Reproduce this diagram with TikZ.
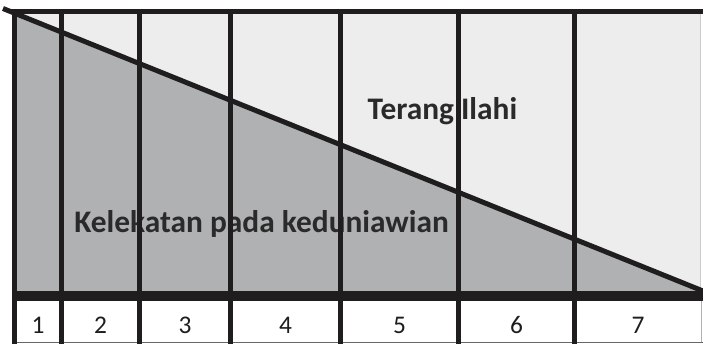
\documentclass[tikz,border=0pt]{standalone}
\usepackage{fontspec}
\setmainfont{Carlito}
\definecolor{darkfill}{HTML}{B0B1B3}
\definecolor{lightfill}{HTML}{EDEDED}
\definecolor{ink}{HTML}{1F1D1E}
\definecolor{txt}{HTML}{2A2A2A}
\begin{document}
\begin{tikzpicture}[x=1bp,y=-1bp,
  bar/.style={draw=ink,line width=5bp},
  label/.style={font=\fontsize{31.5}{32}\selectfont\bfseries,text=txt,inner sep=0pt,anchor=base},
  num/.style={font=\fontsize{25.5}{26}\selectfont,text=ink,inner sep=0pt,anchor=base}]
\useasboundingbox (0,0) rectangle (703,344);
% fills
\fill[white] (0,0) rectangle (703,344);
\fill[lightfill] (14,11) rectangle (701,292);
\fill[darkfill] (14,13) -- (703,291) -- (14,291) -- cycle;
\draw[gray!40,line width=1bp] (700.5,12) -- (700.5,291);
\draw[gray!60,line width=1bp] (701.5,300) -- (701.5,343);
\draw[gray!80!black,line width=1.2bp] (14,342.5) -- (703,342.5);
% texts
\node[label] (terang) at (442.5,119.5) {Terang Ilahi};
\node[label] (kelekatan) at (261.5,232) {Kelekatan pada keduniawian};
\node[num] (n1) at (38,333) {1};
\node[num] (n2) at (100.5,333) {2};
\node[num] (n3) at (185,333) {3};
\node[num] (n4) at (285.5,333) {4};
\node[num] (n5) at (399.5,333) {5};
\node[num] (n6) at (516.5,333) {6};
\node[num] (n7) at (638,333) {7};
% lines
\draw[bar] (10,11.5) -- (703,11.5);
\foreach \xx in {14.5,61.5,139.5,230.5,340.5,458.5,574.5}
  \draw[bar] (\xx,9) -- (\xx,344);
\draw[draw=ink,line width=10bp] (12,296) -- (703,296);
\draw[bar] (3,8.5) -- (703,291);
\end{tikzpicture}
\end{document}
